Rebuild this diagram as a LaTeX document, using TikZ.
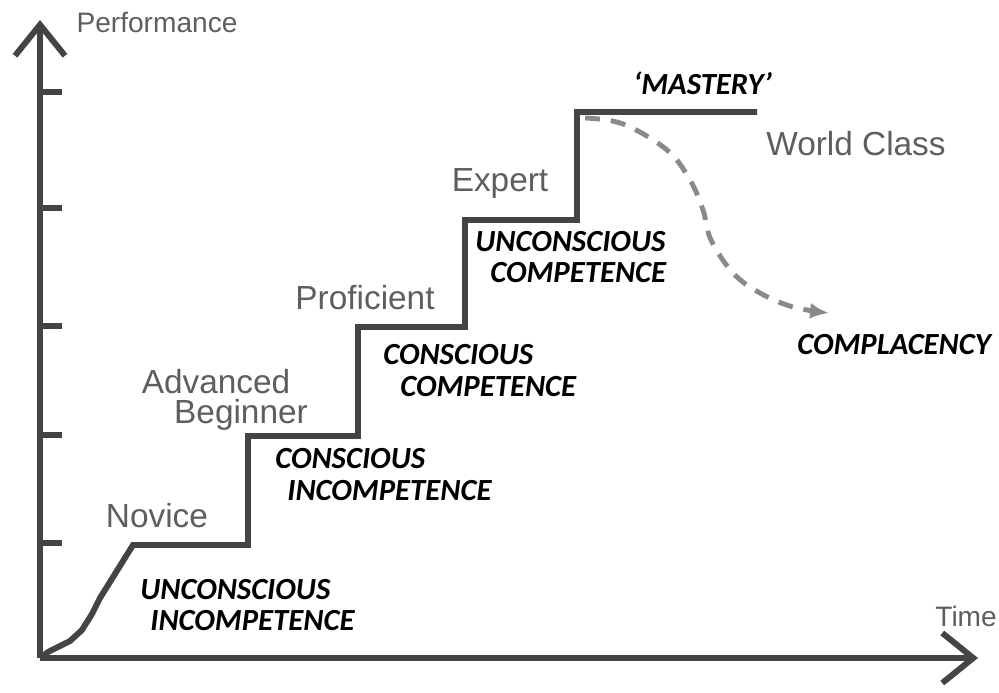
\documentclass[tikz,border=0pt]{standalone}
\usepackage{fontspec}
\setmainfont{Liberation Sans}
\newfontfamily\stagefont{Carlito}
\usetikzlibrary{arrows.meta,positioning}

\definecolor{axisgray}{HTML}{444444}
\definecolor{levelgray}{HTML}{5E5E5E}
\definecolor{dropgray}{HTML}{8A8A8A}

\begin{document}
\begin{tikzpicture}[x=0.02cm,y=-0.02cm,line join=miter]
		\tikzstyle{axis}=[draw=axisgray, line width=3.4pt]
		\tikzstyle{barb}=[-{Straight Barb[length=0.62cm,width=1.0cm]}]
		\tikzstyle{steps}=[draw=axisgray, line width=3.4pt]
		\tikzstyle{drop}=[draw=dropgray, line width=2.8pt, dash pattern=on 0.3cm off 0.22cm, -{Latex[length=0.38cm,width=0.32cm]}]
		\tikzstyle{level}=[text=levelgray, inner sep=0pt, font=\fontsize{19}{21}\selectfont]
		\tikzstyle{axislabel}=[text=levelgray, inner sep=0pt, font=\fontsize{16}{18}\selectfont]
		\tikzstyle{stage}=[text=black, inner sep=0pt, anchor=west, font=\stagefont\bfseries\itshape\fontsize{17.5}{19}\selectfont]

		\useasboundingbox (0,0) rectangle (999,692);

		% axes
		\coordinate (origin) at (40,658);
		\coordinate (ytip) at (40,20);
		\coordinate (xtip) at (978,658);
		\draw [axis,barb] (origin) -- (ytip);
		\draw [axis,barb] (origin) -- (xtip);
		\foreach \y in {92,208,326,435,543}
			\draw [axis] (40,\y) -- (62,\y);

		\node [axislabel] (perf) at (157,22) {Performance};
		\node [axislabel,anchor=west] (time) at (935,616) {Time};

		% staircase
		\coordinate (s1) at (133,545);
		\coordinate (s2) at (248,545);
		\coordinate (s3) at (248,436);
		\coordinate (s4) at (358,436);
		\coordinate (s5) at (358,327);
		\coordinate (s6) at (465,327);
		\coordinate (s7) at (465,220);
		\coordinate (s8) at (577,220);
		\coordinate (s9) at (577,112);
		\coordinate (s10) at (757,112);
		\draw [steps] (origin) -- (48,652) -- (58,647) -- (70,641) -- (82,630) -- (92,614) -- (100,598) -- (s1)
			-- (s2) -- (s3) -- (s4) -- (s5) -- (s6) -- (s7) -- (s8) -- (s9) -- (s10);

		% complacency drop
		\coordinate (dropstart) at (585,118);
		\coordinate (dropend) at (829,313);
		\draw [drop] plot [smooth,tension=0.6] coordinates {(dropstart) (623,124) (667,150) (690,180) (703,210) (711,240) (733,273) (760,293) (793,307) (dropend)};

		% levels
		\node [level] (novice) at (157,516) {Novice};
		\node [level] (advanced) at (216,382) {Advanced};
		\node [level] (beginner) at (241,415) {Beginner};
		\node [level] (proficient) at (365,298) {Proficient};
		\node [level] (expert) at (500,183) {Expert};
		\node [level] (world) at (856,144) {World Class};

		% stages
		\node [stage] (ui1) at (140,590) {UNCONSCIOUS};
		\node [stage] (ui2) at (150,621) {INCOMPETENCE};
		\node [stage] (ci1) at (275,459) {CONSCIOUS};
		\node [stage] (ci2) at (287,491) {INCOMPETENCE};
		\node [stage] (cc1) at (383,355) {CONSCIOUS};
		\node [stage] (cc2) at (400,387) {COMPETENCE};
		\node [stage] (uc1) at (475,242) {UNCONSCIOUS};
		\node [stage] (uc2) at (490,273) {COMPETENCE};
		\node [stage] (mastery) at (633,83) {‘MASTERY’};
		\node [stage] (compl) at (797,345) {COMPLACENCY};
	\end{tikzpicture}
\end{document}
